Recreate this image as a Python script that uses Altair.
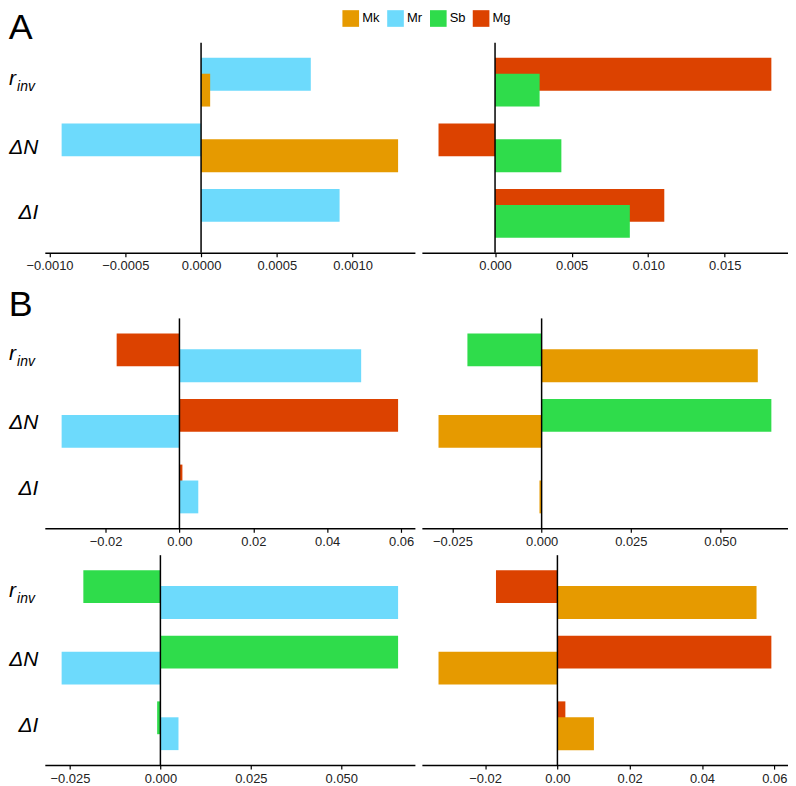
import altair as alt
import pandas as pd

species = ["Mk", "Mr", "Sb", "Mg"]
colors = ["#E69A00", "#6DDAFC", "#2FDC4B", "#DC4200"]
cats = ["r_inv", "ΔN", "ΔI"]
r_main, r_sub = "r", "inv"

# Panel A, left (upper bar = Mr, lower bar = Mk)
a1_top_sp, a1_bot_sp = "Mr", "Mk"
a1_top_vals = [0.000724, -0.00092, 0.000914]
a1_bot_vals = [0.00006, 0.00130, 0.0]
a1_ticks = [-0.0010, -0.0005, 0.0, 0.0005, 0.0010]

# Panel A, right (upper bar = Mg, lower bar = Sb)
a2_top_sp, a2_bot_sp = "Mg", "Sb"
a2_top_vals = [0.01804, -0.00369, 0.01105]
a2_bot_vals = [0.00291, 0.00433, 0.00880]
a2_ticks = [0.0, 0.005, 0.010, 0.015]

# Panel B, row 1 left (upper = Mg, lower = Mr)
b1_top_sp, b1_bot_sp = "Mg", "Mr"
b1_top_vals = [-0.0170, 0.0592, 0.0008]
b1_bot_vals = [0.0492, -0.0319, 0.0051]
b1_ticks = [-0.02, 0.0, 0.02, 0.04, 0.06]

# Panel B, row 1 right (upper = Sb, lower = Mk)
b2_top_sp, b2_bot_sp = "Sb", "Mk"
b2_top_vals = [-0.0208, 0.0644, 0.0]
b2_bot_vals = [0.0606, -0.0289, -0.0006]
b2_ticks = [-0.025, 0.0, 0.025, 0.050]

# Panel B, row 2 left (upper = Sb, lower = Mr)
b3_top_sp, b3_bot_sp = "Sb", "Mr"
b3_top_vals = [-0.0213, 0.0657, -0.0009]
b3_bot_vals = [0.0657, -0.0273, 0.0050]
b3_ticks = [-0.025, 0.0, 0.025, 0.050]

# Panel B, row 2 right (upper = Mg, lower = Mk)
b4_top_sp, b4_bot_sp = "Mg", "Mk"
b4_top_vals = [-0.0170, 0.0592, 0.0022]
b4_bot_vals = [0.0551, -0.0329, 0.0101]
b4_ticks = [-0.02, 0.0, 0.02, 0.04, 0.06]

FONT = "Liberation Sans"
PANEL_H = 211


def panel(top_sp, top_vals, bot_sp, bot_vals, ticks, fmt, show_y, width):
    df = pd.DataFrame({
        "cat": cats * 2,
        "species": [top_sp] * 3 + [bot_sp] * 3,
        "value": top_vals + bot_vals,
        "slot": ["top"] * 3 + ["bottom"] * 3,
    })
    vals = top_vals + bot_vals
    lo = min(0.0, min(vals))
    hi = max(0.0, max(vals))
    pad = 0.05 * (hi - lo)
    xscale = alt.Scale(domain=[lo - pad, hi + pad], nice=False, zero=False)
    xaxis = alt.Axis(values=ticks, format=fmt, grid=False, title=None,
                     domainColor="black", domainWidth=1.5, tickColor="black",
                     tickSize=4, tickWidth=1.2, labelFontSize=13,
                     labelColor="#222222", labelPadding=3, labelFont=FONT,
                     labelFlush=False)
    if show_y:
        yaxis = alt.Axis(title=None, domain=False, ticks=False, labelFontSize=21,
                         labelFontStyle="italic", labelPadding=7, labelFont=FONT,
                         labelColor="black",
                         labelExpr="datum.value == 'r_inv' ? '' : datum.value")
    else:
        yaxis = None
    yscale = alt.Scale(domain=cats, paddingInner=0, paddingOuter=0.1)
    color = alt.Color("species:N", scale=alt.Scale(domain=species, range=colors),
                      title=None)
    base = alt.Chart(df)
    top = base.transform_filter(alt.datum.slot == "top").mark_bar(
        height=33, yOffset=-8).encode(
        x=alt.X("value:Q", scale=xscale, axis=xaxis),
        y=alt.Y("cat:N", scale=yscale, axis=yaxis, sort=cats),
        color=color,
    )
    bot = base.transform_filter(alt.datum.slot == "bottom").mark_bar(
        height=33, yOffset=8).encode(
        x=alt.X("value:Q", scale=xscale, axis=xaxis),
        y=alt.Y("cat:N", scale=yscale, axis=yaxis, sort=cats),
        color=color,
    )
    zero = alt.Chart(pd.DataFrame({"z": [0.0]})).mark_rule(
        color="black", strokeWidth=1.5).encode(x=alt.X("z:Q", scale=xscale, axis=xaxis))
    layers = [top, bot, zero]
    if show_y:
        lab = pd.DataFrame({"cat": [cats[0]], "m": [r_main], "s": [r_sub]})
        r_txt = alt.Chart(lab).mark_text(
            align="right", baseline="alphabetic", fontSize=21, fontStyle="italic",
            font=FONT, color="black", dy=2.5).encode(
            y=alt.Y("cat:N", scale=yscale, axis=yaxis, sort=cats),
            x=alt.value(-29), text="m:N")
        s_txt = alt.Chart(lab).mark_text(
            align="right", baseline="alphabetic", fontSize=14, fontStyle="italic",
            font=FONT, color="black", dy=8.5).encode(
            y=alt.Y("cat:N", scale=yscale, axis=yaxis, sort=cats),
            x=alt.value(-10), text="s:N")
        layers += [r_txt, s_txt]
    return alt.layer(*layers).properties(width=width, height=PANEL_H)


pA1 = panel(a1_top_sp, a1_top_vals, a1_bot_sp, a1_bot_vals, a1_ticks, ".4f", True, 372)
pA2 = panel(a2_top_sp, a2_top_vals, a2_bot_sp, a2_bot_vals, a2_ticks, ".3f", False, 368)
pB1 = panel(b1_top_sp, b1_top_vals, b1_bot_sp, b1_bot_vals, b1_ticks, ".2f", True, 372)
pB2 = panel(b2_top_sp, b2_top_vals, b2_bot_sp, b2_bot_vals, b2_ticks, ".3f", False, 368)
pB3 = panel(b3_top_sp, b3_top_vals, b3_bot_sp, b3_bot_vals, b3_ticks, ".3f", True, 372)
pB4 = panel(b4_top_sp, b4_top_vals, b4_bot_sp, b4_bot_vals, b4_ticks, ".2f", False, 368)

title_style = dict(anchor="start", fontSize=36, fontWeight="normal", font=FONT,
                   color="black", frame="bounds")

rowA = alt.hconcat(pA1, pA2, spacing=7).properties(
    title=alt.TitleParams("A", offset=-5, **title_style))
rowB1 = alt.hconcat(pB1, pB2, spacing=7)
rowB2 = alt.hconcat(pB3, pB4, spacing=7)
blockB = alt.vconcat(rowB1, rowB2, spacing=6).properties(
    title=alt.TitleParams("B", offset=-6, **title_style))

chart = alt.vconcat(rowA, blockB, spacing=14).properties(
    padding={"left": 0, "top": 0, "right": 0, "bottom": 0}
).configure_view(stroke=None).configure_legend(
    orient="none", legendX=299, legendY=-33, direction="horizontal",
    symbolType="square", symbolSize=280, symbolStrokeWidth=0, symbolOpacity=1,
    labelFontSize=13, labelFont=FONT, labelColor="black", columnPadding=7,
    labelOffset=3,
).configure_concat(spacing=7)

chart.save("out.html", embed_options={"renderer": "svg", "actions": False})
